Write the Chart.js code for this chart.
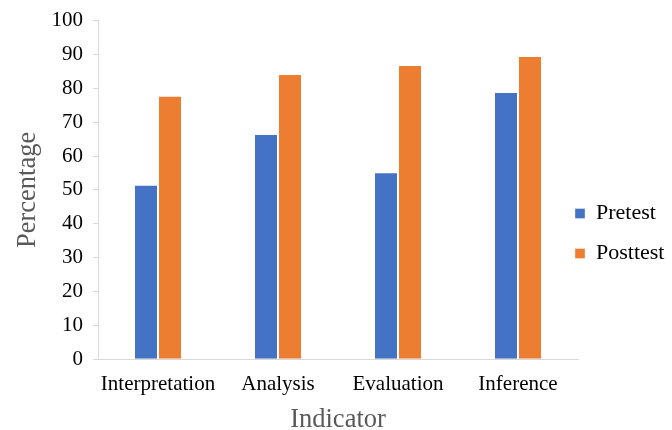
<!DOCTYPE html>
<html>
<head>
<meta charset="utf-8">
<script src="https://cdn.jsdelivr.net/npm/chart.js@4"></script>
<style>
  html, body { margin: 0; padding: 0; background: #fff; }
  #wrap { width: 672px; height: 430px; }
</style>
</head>
<body>
<div id="wrap"><canvas id="chart" width="672" height="430"></canvas></div>
<script>
// data
const categories = ["Interpretation", "Analysis", "Evaluation", "Inference"];
const pretest = [51.5, 66.5, 55.2, 78.9];
const posttest = [77.8, 84.2, 86.9, 89.5];
const yTicks = [0, 10, 20, 30, 40, 50, 60, 70, 80, 90, 100];

const serif = "'Liberation Serif', 'Times New Roman', serif";
const axisGrey = "#d9d9d9";

// Excel-like legend: sits right against the plot, a bit below centre
const legendPlace = {
    id: 'legendPlace',
    beforeLayout(chart) {
        const lg = chart.legend;
        if (lg && !lg._patched) {
            const fit = lg.fit;
            lg.fit = function () {
                fit.call(this);
                if (!this.isHorizontal()) this.width = 90;
            };
            lg._patched = true;
        }
    },
    afterLayout(chart) {
        const lg = chart.legend;
        lg.left = chart.chartArea.right - 21;
        lg.right = lg.left + 110;
        lg.top += 17;
        lg.bottom += 17;
    }
};

const chart = new Chart(document.getElementById("chart"), {
    type: 'bar',
    data: {
        labels: categories,
        datasets: [
            {
                label: "Pretest",
                data: pretest,
                backgroundColor: "#4472c4",
                borderColor: "rgba(255,255,255,0.35)",
                borderWidth: 1
            },
            {
                label: "Posttest",
                data: posttest,
                backgroundColor: "#ed7d31",
                borderColor: "rgba(255,255,255,0.35)",
                borderWidth: 1
            }
        ]
    },
    plugins: [legendPlace],
    options: {
        responsive: false,
        animation: false,
        layout: { padding: { left: 15, right: 4, top: 0, bottom: -3 } },
        datasets: {
            bar: { categoryPercentage: 0.4, barPercentage: 1.0 }
        },
        plugins: {
            tooltip: { enabled: false },
            legend: {
                position: 'right',
                align: 'center',
                labels: {
                    boxWidth: 10,
                    boxHeight: 10,
                    padding: 18,
                    color: "#000",
                    font: { family: serif, size: 22 }
                }
            }
        },
        scales: {
            x: {
                grid: { display: false },
                border: { display: true, color: axisGrey, width: 1 },
                ticks: {
                    color: "#000",
                    padding: 5,
                    autoSkip: false,
                    maxRotation: 0,
                    font: { family: serif, size: 21 }
                },
                title: {
                    display: true,
                    text: "Indicator",
                    color: "#595959",
                    padding: { top: 4, bottom: 0 },
                    font: { family: serif, size: 26.5, lineHeight: 1 }
                }
            },
            y: {
                min: 0,
                max: 100,
                afterBuildTicks: (axis) => {
                    axis.ticks = yTicks.map(v => ({ value: v }));
                },
                grid: {
                    drawOnChartArea: false,
                    drawTicks: true,
                    tickLength: 5,
                    color: axisGrey
                },
                border: { display: true, color: axisGrey, width: 1 },
                ticks: {
                    color: "#000",
                    padding: 10,
                    font: { family: serif, size: 21, lineHeight: 1 }
                },
                title: {
                    display: true,
                    text: "Percentage",
                    color: "#595959",
                    padding: { top: 0, bottom: 0 },
                    font: { family: serif, size: 26.5, lineHeight: 1 }
                }
            }
        }
    }
});
</script>
</body>
</html>
